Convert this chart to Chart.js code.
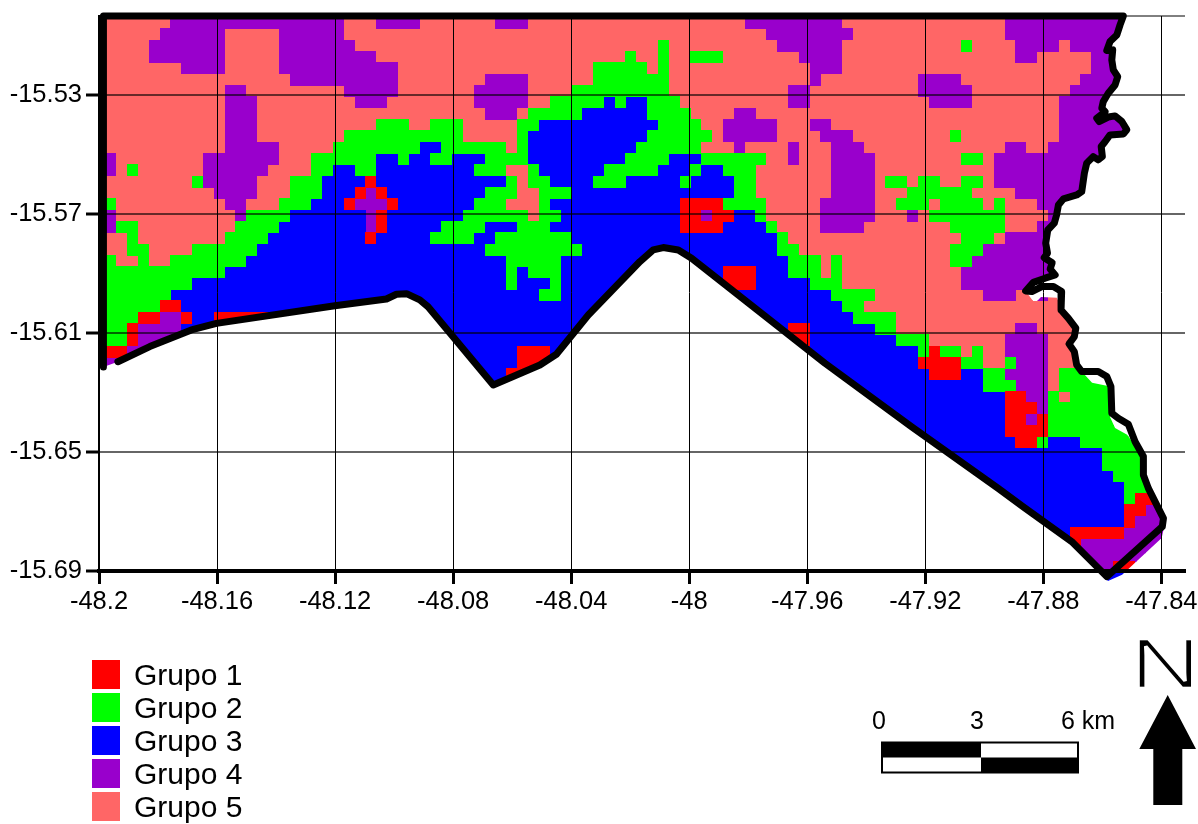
<!DOCTYPE html>
<html>
<head>
<meta charset="utf-8">
<title>Grupos</title>
<script src="https://cdn.jsdelivr.net/npm/chart.js@4"></script>
<style>
  html, body { margin: 0; padding: 0; background: #fff; }
  #wrap { position: relative; width: 1198px; height: 824px; overflow: hidden; font-family: "Liberation Sans", Arial, sans-serif; color: #000; }
  #map { position: absolute; left: 0; top: 0; }
  .swatch { position: absolute; left: 92px; width: 28px; height: 29px; }
  .name { position: absolute; left: 134px; font-size: 30px; line-height: 33px; white-space: nowrap; }
  #overlay { position: absolute; left: 0; top: 0; }
</style>
</head>
<body>
<div id="wrap">
  <canvas id="map" width="1198" height="824"></canvas>
  <div id="legend"></div>
  <svg id="overlay" width="1198" height="824" font-family="Liberation Sans, Arial, sans-serif">
    <!-- scale bar -->
    <rect x="882" y="742.5" width="196" height="30" fill="#fff" stroke="#000" stroke-width="2"/>
    <rect x="882" y="742.5" width="99" height="15" fill="#000"/>
    <rect x="981" y="757.5" width="97" height="15" fill="#000"/>
    <text x="879" y="729" font-size="25" text-anchor="middle">0</text>
    <text x="977" y="729" font-size="25" text-anchor="middle">3</text>
    <text x="1061" y="729" font-size="25">6 km</text>
    <!-- north arrow -->
    <text transform="translate(1130,688) scale(1.4,1)" font-size="70" stroke="#fff" stroke-width="2.5">N</text>
    <polygon points="1167.7,695 1196,749 1182.3,749 1182.3,805 1153.3,805 1153.3,749 1139.3,749" fill="#000"/>
  </svg>
</div>
<script>
const groupNames = ["Grupo 1", "Grupo 2", "Grupo 3", "Grupo 4", "Grupo 5"];
const groupColors = ["#ff0000", "#00ff00", "#0000ff", "#9900cc", "#ff6666"];

const xTicks = [-48.2, -48.16, -48.12, -48.08, -48.04, -48, -47.96, -47.92, -47.88, -47.84];
const yTicks = [-15.69, -15.65, -15.61, -15.57, -15.53];
const xMin = -48.2, xMax = -47.832;
const yMin = -15.69, yMax = -15.5033;

// raster cell size and origin, in degrees
const cellLon0 = -48.1978, cellLat0 = -15.5038;
const cellLon = 0.003671, cellLat = 0.003812;
const cellCols = 98;

// one string per raster row, "group:startColumn"
const cellRows = [
  "5:0 4:6 5:22 4:25 5:29 4:36 5:39 4:59 5:68 4:83",
  "5:0 4:5 5:11 4:16 5:22 4:61 5:69 4:83",
  "5:0 4:4 5:11 4:16 5:23 2:51 5:52 4:62 5:68 2:79 5:80 4:84 5:88 4:89",
  "5:0 4:4 5:11 4:16 5:25 2:48 5:49 2:51 5:52 2:54 5:57 4:64 5:68 4:84 5:86 4:91",
  "5:0 4:7 5:11 4:16 5:27 2:45 5:50 2:51 5:52 4:65 5:68 4:91",
  "5:0 4:17 5:27 4:35 5:39 2:45 5:52 4:65 5:66 4:75 5:79 4:90",
  "5:0 4:11 5:13 4:22 5:27 4:34 5:39 2:43 5:52 4:63 5:65 4:75 5:80 4:89",
  "5:0 4:11 5:14 4:23 5:26 4:34 5:39 2:41 3:46 2:47 3:48 2:50 5:53 4:63 5:65 4:76 5:80 4:88",
  "5:0 4:11 5:14 4:35 5:38 2:39 3:44 2:50 5:54 4:58 5:60 4:88",
  "5:0 4:11 5:14 2:25 5:28 2:30 5:33 2:38 3:40 2:51 5:55 4:57 5:62 4:65 5:67 4:88",
  "5:0 4:11 5:14 2:22 5:33 2:38 3:39 2:50 5:56 4:57 5:62 4:66 5:69 2:78 5:79 4:88",
  "5:0 4:11 5:16 2:21 3:29 2:31 5:37 2:38 3:39 2:49 5:55 4:58 5:59 4:63 5:64 4:67 5:70 4:83 5:85 4:87",
  "4:0 5:1 4:9 5:16 2:19 3:25 2:27 3:28 2:30 3:32 2:35 3:39 2:48 3:52 2:55 5:61 4:63 5:64 4:67 5:71 2:79 5:81 4:82",
  "4:0 5:1 2:2 5:3 4:9 5:15 2:19 3:21 2:23 3:25 2:34 5:37 2:39 3:40 2:46 3:51 2:54 3:55 2:57 5:60 4:67 5:71 4:82",
  "5:0 2:8 4:9 5:14 2:17 3:20 1:24 3:25 2:37 5:38 2:39 3:41 2:45 3:48 2:53 3:54 2:58 5:60 4:67 5:71 2:72 5:74 2:75 5:77 2:79 5:81 4:82",
  "5:0 4:10 5:14 2:17 3:20 1:23 4:24 1:25 3:26 2:35 5:38 2:40 3:43 2:58 5:60 4:67 5:71 2:74 5:80 4:84",
  "2:0 5:1 4:11 5:13 2:16 3:19 1:22 4:23 1:26 3:27 2:34 5:37 2:40 3:41 1:53 2:57 5:61 4:66 5:71 2:73 5:76 2:77 5:81 2:82 5:83 4:86",
  "4:0 5:1 4:12 2:13 3:17 4:24 1:25 3:26 2:33 5:39 2:40 3:42 1:53 4:55 1:56 3:58 2:60 5:61 4:66 5:71 4:74 5:75 2:76 5:83 4:87",
  "4:0 2:1 5:3 2:12 3:16 4:24 1:25 3:26 2:31 3:35 2:38 3:41 1:53 3:57 2:61 5:62 4:66 5:70 2:78 5:83 4:86",
  "5:0 2:2 5:3 2:11 3:15 1:24 3:25 2:30 3:34 2:36 3:43 2:62 5:63 2:79 5:82 4:83",
  "5:0 2:2 5:4 2:8 3:14 2:35 3:44 2:62 5:64 2:78 4:81",
  "2:0 5:1 2:3 5:4 2:6 3:13 2:37 3:42 2:63 5:66 2:67 5:68 2:78 4:80",
  "2:0 3:11 2:37 3:38 2:39 3:42 1:57 3:60 2:63 5:66 2:67 5:68 4:79",
  "2:0 3:8 2:37 3:38 2:41 3:42 1:57 3:60 2:65 5:68 4:79",
  "2:0 3:6 2:40 3:42 2:67 5:71 4:81 5:84 4:86 5:87",
  "2:0 1:5 3:7 2:68 5:70",
  "2:0 1:3 4:5 1:7 3:8 1:10 3:15 2:69 5:73",
  "2:0 1:2 4:3 3:7 1:63 3:65 2:71 5:73 4:84 5:86",
  "2:0 1:2 4:3 3:7 1:63 3:65 2:73 5:76 4:83 5:87",
  "1:0 4:2 3:7 1:38 3:41 2:75 1:76 2:77 5:79 2:80 5:81 4:83 5:87",
  "4:0 3:7 1:38 3:41 1:75 2:79 5:81 2:83 4:84 5:87",
  "3:0 1:37 3:41 1:76 3:79 2:81 4:83 5:87 2:88",
  "3:0 2:81 4:84 5:87 2:88",
  "3:0 1:83 4:85 2:87 5:88 2:89",
  "3:0 1:83 4:86 2:87",
  "3:0 1:83 4:85 1:86 2:87",
  "3:0 1:83 2:87",
  "3:0 1:84 2:86 3:87 2:90",
  "3:0 2:92",
  "3:0 2:92",
  "3:0 2:93",
  "3:0 2:94",
  "3:0 2:94 1:95 4:97",
  "3:0 1:94 4:96",
  "3:0 1:94 4:95",
  "3:0 1:89 4:94",
  "3:0 1:89 4:90",
  "3:0 4:90",
  "3:0 4:90 1:93 4:95",
  "3:0 4:90 3:92 1:94",
];

// study area outline, null marks the small break at the lower left
const boundaryLon = [
  -48.1985, -47.8529, -47.8540, -47.8551, -47.8574, -47.8585, -47.8565, -47.8568, -47.8563, -47.8548,
  -47.8557, -47.8580, -47.8597, -47.8602, -47.8591, -47.8619, -47.8611, -47.8580, -47.8557, -47.8534,
  -47.8517, -47.8529, -47.8574, -47.8591, -47.8604, -47.8600, -47.8614, -47.8631, -47.8653, -47.8661,
  -47.8670, -47.8687, -47.8715, -47.8732, -47.8749, -47.8755, -47.8763, -47.8785, -47.8792, -47.8786,
  -47.8797, -47.8770, -47.8777, -47.8760, -47.8794, -47.8834, -47.8860, -47.8839, -47.8805, -47.8766,
  -47.8738, -47.8740, -47.8715, -47.8690, -47.8695, -47.8713, -47.8695, -47.8687, -47.8670, -47.8614,
  -47.8585, -47.8571, -47.8568, -47.8546, -47.8512, -47.8489, -47.8461, -47.8461, -47.8444, -47.8393,
  -47.8397, -47.8585, -47.8704, -47.8868, -47.8953, -47.9246, -47.9540, -47.9992, -48.0037, -48.0088,
  -48.0122, -48.0167, -48.0342, -48.0450, -48.0506, -48.0664, -48.0885, -48.0913, -48.0958, -48.0992,
  -48.1026, -48.1201, -48.1602, -48.1687, -48.1828, -48.1936, null, -48.1985, -48.1985,
];
const boundaryLat = [
  -15.5033, -15.5033, -15.5063, -15.5097, -15.5119, -15.5149, -15.5147, -15.5181, -15.5214, -15.5237,
  -15.5265, -15.5293, -15.5321, -15.5343, -15.5355, -15.5377, -15.5388, -15.5373, -15.5369, -15.5388,
  -15.5416, -15.5430, -15.5433, -15.5456, -15.5472, -15.5506, -15.5517, -15.5506, -15.5528, -15.5562,
  -15.5624, -15.5635, -15.5643, -15.5648, -15.5669, -15.5702, -15.5730, -15.5753, -15.5797, -15.5831,
  -15.5846, -15.5863, -15.5884, -15.5904, -15.5915, -15.5929, -15.5958, -15.5960, -15.5943, -15.5943,
  -15.5960, -15.6022, -15.6050, -15.6083, -15.6112, -15.6136, -15.6162, -15.6207, -15.6229, -15.6229,
  -15.6246, -15.6280, -15.6369, -15.6386, -15.6406, -15.6465, -15.6515, -15.6577, -15.6622, -15.6723,
  -15.6751, -15.6919, -15.6801, -15.6684, -15.6622, -15.6415, -15.6201, -15.5848, -15.5820, -15.5812,
  -15.5820, -15.5859, -15.6039, -15.6171, -15.6207, -15.6274, -15.6011, -15.5988, -15.5967, -15.5969,
  -15.5985, -15.6008, -15.6067, -15.6089, -15.6145, -15.6196, null, -15.6214, -15.5033,
];

// where the raster edge leaves the outline: [first index, how many, lons, lats], last first
const limitEdits = [
  [70, 2, [-47.8393, -47.8399, -47.8533, -47.8581], [-15.6762, -15.6789, -15.6913, -15.6934]],
  [62, 5, [-47.8574, -47.8557, -47.8516, -47.8472], [-15.6382, -15.6419, -15.6442, -15.6503]],
  [59, 2, [-47.8635, -47.8581], [-15.6267, -15.6278]],
  [47, 4, [-47.8835, -47.8821, -47.8808, -47.8754], [-15.5992, -15.5992, -15.5978, -15.5981]],
];

const cellPoints = groupNames.map(() => []);
cellRows.forEach((row, r) => {
  const runs = row.split(" ").map((t) => t.split(":").map(Number));
  runs.forEach(([group, start], i) => {
    const end = i + 1 < runs.length ? runs[i + 1][1] : cellCols;
    for (let c = start; c < end; c++) {
      cellPoints[group - 1].push({
        x: cellLon0 + (c + 0.5) * cellLon,
        y: cellLat0 - (r + 0.5) * cellLat,
      });
    }
  });
});

const boundaryPoints = boundaryLon.map((lon, i) => ({ x: lon, y: boundaryLat[i] }));

const limitLon = [...boundaryLon];
const limitLat = [...boundaryLat];
limitEdits.forEach(([at, count, lons, lats]) => {
  limitLon.splice(at, count, ...lons);
  limitLat.splice(at, count, ...lats);
});

// one tile per cell, 11 x 12 px, so neighbours join without a seam
const makeTile = (color) => {
  const tile = document.createElement("canvas");
  tile.width = 11;
  tile.height = 12;
  const g = tile.getContext("2d");
  g.fillStyle = color;
  g.fillRect(0, 0, 11, 12);
  return tile;
};

const cellLayer = {
  id: "cellLayer",
  // snap the tiles on whole pixels
  afterDatasetsUpdate(chart) {
    chart.getSortedVisibleDatasetMetas().forEach((meta) => {
      if (!meta._dataset.isCell) return;
      meta.data.forEach((pt) => {
        pt.x = Math.floor(pt.x) + 0.5;
        pt.y = Math.round(pt.y);
      });
    });
  },
  // keep the cells inside the raster edge
  beforeDatasetDraw(chart, args) {
    if (!args.meta._dataset.isCell) return;
    const { ctx, scales } = chart;
    ctx.save();
    ctx.beginPath();
    limitLon.forEach((lon, i) => {
      if (lon !== null) ctx.lineTo(scales.x.getPixelForValue(lon), scales.y.getPixelForValue(limitLat[i]));
    });
    ctx.closePath();
    ctx.clip();
  },
  afterDatasetDraw(chart, args) {
    if (args.meta._dataset.isCell) chart.ctx.restore();
  },
};

const tickFont = { family: '"Liberation Sans", Arial, sans-serif', size: 25.5 };
const fmt = (v) => String(+Number(v).toFixed(2));

new Chart(document.getElementById("map"), {
  type: "scatter",
  plugins: [cellLayer],
  data: {
    datasets: [
      ...groupNames.map((name, i) => ({
        label: name,
        isCell: true,
        data: cellPoints[i],
        pointStyle: makeTile(groupColors[i]),
        pointRadius: 8,
        pointBorderWidth: 0,
        backgroundColor: groupColors[i],
        order: 3,
        clip: false,
      })),
      {
        label: "topEdge",
        data: [{ x: xMin, y: yMax }, { x: xMax, y: yMax }],
        showLine: true,
        borderColor: "#000",
        borderWidth: 1,
        pointRadius: 0,
        order: 2,
        clip: false,
      },
      {
        label: "Limite",
        data: boundaryPoints,
        showLine: true,
        spanGaps: false,
        borderColor: "#000",
        borderWidth: 7,
        borderJoinStyle: "round",
        borderCapStyle: "round",
        pointRadius: 0,
        order: 1,
        clip: false,
      },
    ],
  },
  options: {
    responsive: false,
    animation: false,
    events: [],
    layout: { padding: { top: 16, right: 13, left: 0, bottom: 0 } },
    plugins: { legend: { display: false }, tooltip: { enabled: false } },
    scales: {
      x: {
        type: "linear",
        min: xMin,
        max: xMax,
        afterFit: (s) => { s.height = 253; s.paddingLeft = 0; s.paddingRight = 0; },
        afterBuildTicks: (s) => { s.ticks = xTicks.map((value) => ({ value })); },
        grid: { color: "#000", lineWidth: 1, z: 1, tickLength: 13, tickWidth: 3, tickColor: "#000" },
        border: { color: "#000", width: 4, z: 2 },
        ticks: { color: "#000", font: tickFont, padding: 3, maxRotation: 0, autoSkip: false, callback: fmt },
      },
      y: {
        type: "linear",
        min: yMin,
        max: yMax,
        afterFit: (s) => { s.width = 99; s.paddingTop = 0; s.paddingBottom = 0; },
        afterBuildTicks: (s) => { s.ticks = yTicks.map((value) => ({ value })); },
        grid: { color: "rgba(0,0,0,0.6)", lineWidth: 2, z: 1, tickLength: 13, tickWidth: 3, tickColor: "#000" },
        border: { color: "#000", width: 2, z: 2 },
        ticks: { color: "#000", font: tickFont, padding: 4, autoSkip: false, callback: fmt },
      },
    },
  },
});

// legend list under the map
const legend = document.getElementById("legend");
groupNames.forEach((name, i) => {
  const top = 660 + i * 33;
  legend.insertAdjacentHTML(
    "beforeend",
    `<div class="swatch" style="top:${top}px;background:${groupColors[i]}"></div>` +
      `<div class="name" style="top:${top - 2}px">${name}</div>`
  );
});
</script>
</body>
</html>
